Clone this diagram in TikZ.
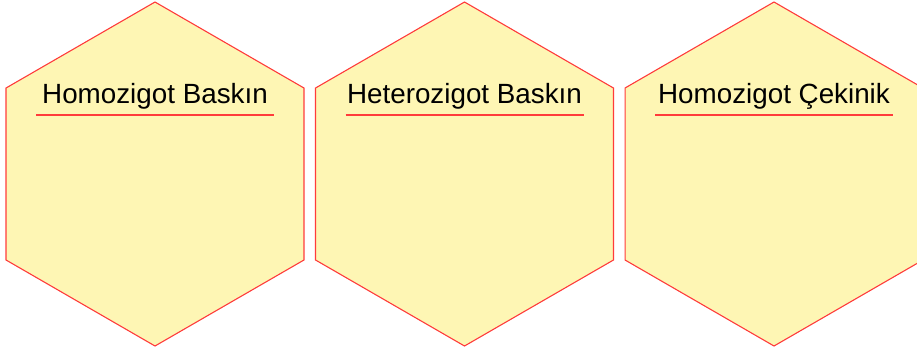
\documentclass[tikz,border=0pt]{standalone}
\usepackage{fontspec}
\setmainfont{Liberation Sans}
\usetikzlibrary{shapes.geometric}
\definecolor{hexfill}{HTML}{FEF6B4}
\definecolor{hexline}{HTML}{FF3B3B}
\begin{document}
\begin{tikzpicture}[x=1pt,y=-1pt,
  hexa/.style={regular polygon,regular polygon sides=6,shape border rotate=30,
    minimum size=344pt,inner sep=0pt,outer sep=0pt,draw=hexline,fill=hexfill,line width=1.1pt},
  title/.style={anchor=base,inner sep=0pt,font=\fontsize{27.8pt}{32pt}\selectfont,text=black},
  titlerule/.style={color=hexline,line width=1.1pt}]
\useasboundingbox (0,0) rectangle (917,349);
\node[hexa] (h1) at (155,174) {};
\node[hexa] (h2) at (464.5,174) {};
\node[hexa] (h3) at (774,174) {};
\node[title] (t1) at (155,103.5) {Homozigot Baskın};
\node[title] (t2) at (464.5,103.5) {Heterozigot Baskın};
\node[title] (t3) at (774,103.5) {Homozigot Çekinik};
\coordinate (a1) at (36,115); \coordinate (b1) at (274,115);
\coordinate (a2) at (345.5,115); \coordinate (b2) at (583.5,115);
\coordinate (a3) at (655,115); \coordinate (b3) at (893,115);
\draw[titlerule] (a1) -- (b1);
\draw[titlerule] (a2) -- (b2);
\draw[titlerule] (a3) -- (b3);
\end{tikzpicture}
\end{document}
